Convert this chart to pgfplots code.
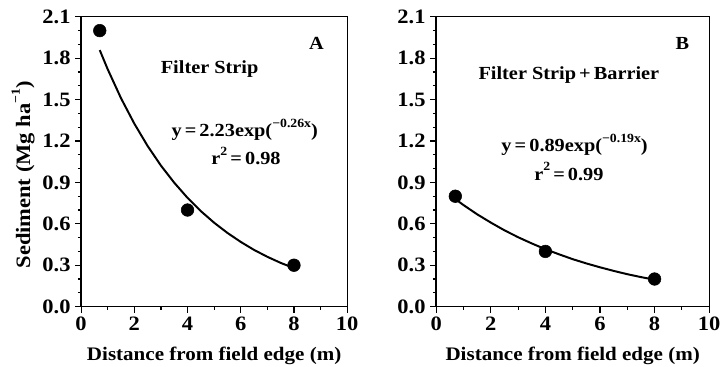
\documentclass[border=0pt]{standalone}
\usepackage{fontspec}
\setmainfont{Liberation Serif}[FakeStretch=1.1]
\usepackage{pgfplots}
\pgfplotsset{compat=1.18}
\newcommand{\supx}[1]{\raisebox{0.5em}{\fontsize{9.5}{11}\selectfont #1}}
\tikzset{lab/.style={font=\bfseries\fontsize{14}{16}\selectfont, inner sep=0pt}}
\begin{document}
\begin{tikzpicture}
\pgfplotsset{
  panel/.style={
    scale only axis,
    width=#1, height=219.75pt,
    xmin=0, xmax=10, ymin=0, ymax=2.1,
    xtick={0,2,4,6,8,10}, minor x tick num=1,
    ytick={0,0.3,0.6,0.9,1.2,1.5,1.8,2.1}, minor y tick num=2,
    xticklabel={\pgfmathprintnumber[assume math mode=true]{\tick}},
    yticklabel={\pgfmathprintnumber[fixed,fixed zerofill,precision=1,assume math mode=true]{\tick}},
    tick label style={font=\bfseries\fontsize{15.5}{17}\selectfont},
    label style={font=\bfseries\fontsize{14.5}{16}\selectfont},
    tick align=outside, tick pos=left,
    major tick length=4.5pt, minor tick length=2.5pt,
    every tick/.style={black, line width=0.9pt},
    axis line style={line width=0.6pt},
    xlabel={Distance from field edge (m)},
    xlabel style={yshift=-5pt},
    clip=false,
  },
  dots/.style={only marks, mark=*, mark size=4.8pt, black},
  fit/.style={no marks, black, line width=1.5pt},
}
% Panel A
\begin{axis}[panel=201.75pt, at={(0,0)},
  ylabel={Sediment (Mg ha\supx{−1})},
  ylabel style={font=\bfseries\fontsize{15.5}{17}\selectfont, xshift=-10pt, yshift=-1pt}]
  \addplot[fit] coordinates {(0.7,1.859)(1,1.720)(1.5,1.510)(2,1.326)(2.5,1.164)(3,1.022)(3.5,0.898)(4,0.788)(4.5,0.692)(5,0.608)(5.5,0.534)(6,0.469)(6.5,0.411)(7,0.361)(7.5,0.317)(8,0.279)};
  \addplot[dots] coordinates {(0.7,2.0)(4,0.7)(8,0.3)};
  \draw[line width=0.6pt] (rel axis cs:0,1) -- (rel axis cs:1,1) -- (rel axis cs:1,0);
  \draw[line width=1.3pt] (rel axis cs:0,1) -- (rel axis cs:0,0) -- (rel axis cs:1,0);
  \node[lab] at (axis cs:8.85,1.91) {A};
  \node[lab] at (axis cs:4.83,1.72) {Filter Strip};
  \node[lab] at (axis cs:6.15,1.28) {y\,=\,2.23exp(\supx{−0.26x})};
  \node[lab] at (axis cs:6.2,1.09) {r\supx{2}\,=\,0.98};
\end{axis}
% Panel B
\begin{axis}[panel=207pt, at={(269.25pt,0)}]
  \addplot[fit] coordinates {(0.7,0.779)(1,0.736)(1.5,0.669)(2,0.609)(2.5,0.553)(3,0.503)(3.5,0.458)(4,0.416)(4.5,0.379)(5,0.344)(5.5,0.313)(6,0.285)(6.5,0.259)(7,0.235)(7.5,0.214)(8,0.195)};
  \addplot[dots] coordinates {(0.7,0.8)(4,0.4)(8,0.2)};
  \draw[line width=0.6pt] (rel axis cs:0,1) -- (rel axis cs:1,1) -- (rel axis cs:1,0);
  \draw[line width=1.3pt] (rel axis cs:0,1) -- (rel axis cs:0,0) -- (rel axis cs:1,0);
  \node[lab] at (axis cs:9.02,1.91) {B};
  \node[lab] at (axis cs:4.86,1.68) {Filter Strip\,+\,Barrier};
  \node[lab] at (axis cs:5.07,1.17) {y\,=\,0.89exp(\supx{−0.19x})};
  \node[lab] at (axis cs:4.86,0.98) {r\supx{2}\,=\,0.99};
\end{axis}
\pgfresetboundingbox
\path (-61.5pt,-45.75pt) rectangle (489pt,232.5pt);
\end{tikzpicture}
\end{document}
